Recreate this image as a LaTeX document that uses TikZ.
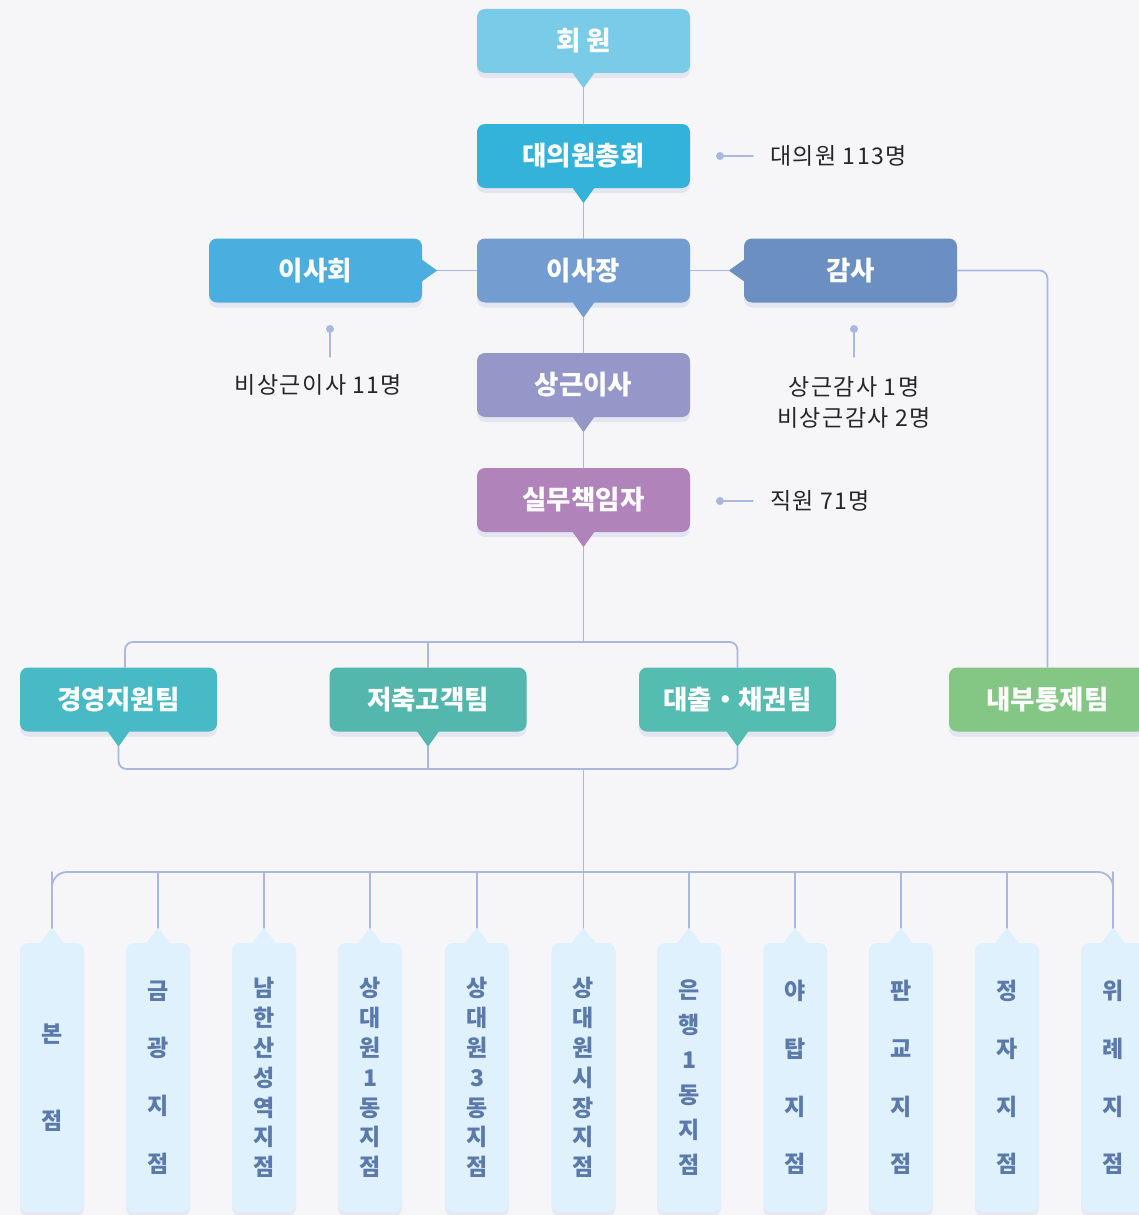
\documentclass[tikz,border=0pt]{standalone}
\usepackage{fontspec}
\setmainfont{Noto Sans CJK KR}
\newfontfamily\notefont{Noto Sans CJK KR}[LetterSpace=6]
\usetikzlibrary{positioning,calc,shadows}

\definecolor{bgpaper}{HTML}{F6F6F9}
\definecolor{linkblue}{HTML}{AAB7E0}
\definecolor{shadowblue}{HTML}{5A6FB8}
\definecolor{notetext}{HTML}{262626}
\definecolor{cMember}{HTML}{7ACBE7}
\definecolor{cAssembly}{HTML}{33B3D9}
\definecolor{cBoard}{HTML}{4AAFDF}
\definecolor{cChair}{HTML}{739CD0}
\definecolor{cAudit}{HTML}{6B8FC1}
\definecolor{cDirector}{HTML}{9497C7}
\definecolor{cOfficer}{HTML}{B084BB}
\definecolor{cMgmt}{HTML}{48BAC5}
\definecolor{cSave}{HTML}{53B7AE}
\definecolor{cLoan}{HTML}{55BCB2}
\definecolor{cControl}{HTML}{84C785}
\definecolor{branchfill}{HTML}{DFF1FC}
\definecolor{branchtext}{HTML}{5B7AAB}

\tikzset{
  unit/.style={rounded corners=8pt, minimum width=213pt, minimum height=64pt,
    inner sep=0pt, text=white, font=\fontsize{26.5}{30}\selectfont\bfseries,
    drop shadow={shadow xshift=0pt, shadow yshift=-5pt, opacity=0.12, fill=shadowblue}},
  team/.style={unit, minimum width=197pt},
  branch/.style={rounded corners=8pt, minimum width=64pt, minimum height=269pt,
    inner sep=0pt, fill=branchfill, text=branchtext, align=center,
    drop shadow={shadow xshift=0pt, shadow yshift=-4pt, opacity=0.10, fill=shadowblue}},
  link/.style={draw=linkblue, line width=1.8pt},
  note/.style={text=notetext, font=\notefont\fontsize{23}{31}\selectfont, inner sep=0pt},
  notedot/.style={circle, fill=linkblue, inner sep=0pt, minimum size=8pt}
}

\newcommand{\TipDown}[2]{%
  \fill[#2] ($(#1.south)+(-11,-0.5)$) -- ($(#1.south)+(0,15)$) -- ($(#1.south)+(11,-0.5)$) -- cycle;
  \coordinate (#1-tip) at ($(#1.south)+(0,15)$);}
\newcommand{\TipUp}[2]{%
  \fill[#2] ($(#1.north)+(-12,0.5)$) -- ($(#1.north)+(0,-15)$) -- ($(#1.north)+(12,0.5)$) -- cycle;
  \coordinate (#1-tip) at ($(#1.north)+(0,-15)$);}
\newcommand{\TipRight}[2]{%
  \fill[#2] ($(#1.east)+(-0.5,-11)$) -- ($(#1.east)+(15,0)$) -- ($(#1.east)+(-0.5,11)$) -- cycle;
  \coordinate (#1-tip) at ($(#1.east)+(15,0)$);}
\newcommand{\TipLeft}[2]{%
  \fill[#2] ($(#1.west)+(0.5,-11)$) -- ($(#1.west)+(-15,0)$) -- ($(#1.west)+(0.5,11)$) -- cycle;
  \coordinate (#1-tip) at ($(#1.west)+(-15,0)$);}

\begin{document}
\begin{tikzpicture}[x=1pt, y=-1pt, line join=round, line cap=round]

\useasboundingbox (0,0) rectangle (1139,1215);
\fill[bgpaper] (0,0) rectangle (1139,1215);
\clip (0,0) rectangle (1139,1215);

\node[unit, fill=cMember] (member) at (583.5,41) {회 원};
\TipDown{member}{cMember}
\node[unit, fill=cAssembly] (assembly) at (583.5,156) {대의원총회};
\TipDown{assembly}{cAssembly}
\node[unit, fill=cChair] (chair) at (583.5,270.5) {이사장};
\TipDown{chair}{cChair}
\node[unit, fill=cBoard] (board) at (315.5,270.5) {이사회};
\TipRight{board}{cBoard}
\node[unit, fill=cAudit] (audit) at (850.5,270.5) {감사};
\TipLeft{audit}{cAudit}
\node[unit, fill=cDirector] (director) at (583.5,385) {상근이사};
\TipDown{director}{cDirector}
\node[unit, fill=cOfficer] (officer) at (583.5,500) {실무책임자};
\TipDown{officer}{cOfficer}

\node[team, fill=cMgmt] (mgmt) at (118.5,699.5) {경영지원팀};
\TipDown{mgmt}{cMgmt}
\node[team, fill=cSave] (save) at (428,699.5) {저축고객팀};
\TipDown{save}{cSave}
\node[team, fill=cLoan] (loan) at (737.5,699.5) {대출・채권팀};
\TipDown{loan}{cLoan}
\node[team, fill=cControl] (control) at (1047.5,699.5) {내부통제팀};

\coordinate (bus1) at (583.5,642);
\coordinate (bus2) at (583.5,769);
\coordinate (bus3) at (583.5,872);

\draw[link] (member-tip) -- (assembly);
\draw[link] (assembly-tip) -- (chair);
\draw[link] (chair-tip) -- (director);
\draw[link] (director-tip) -- (officer);
\draw[link] (board-tip) -- (chair.west |- board-tip);
\draw[link] (chair.east |- audit-tip) -- (audit-tip);
\draw[link, rounded corners=8pt] (audit.east |- audit-tip) -| (control.north);

\draw[link] (officer-tip) -- (bus1);
\draw[link, rounded corners=8pt] ([xshift=6.5pt]mgmt.north) |- (bus1) -| (loan.north);
\draw[link] (save.north) -- (save.north |- bus1);
\draw[link, rounded corners=8pt] (mgmt-tip) |- (bus2) -| (loan-tip);
\draw[link] (save-tip) -- (save-tip |- bus2);
\draw[link] (bus2) -- (bus3);

\foreach \n/\x/\gap/\txt in {1/52/87/{본\\점}, 2/158/57.7/{금\\광\\지\\점},
    3/264/29.8/{남\\한\\산\\성\\역\\지\\점}, 4/370/29.8/{상\\대\\원\\1\\동\\지\\점},
    5/477/29.8/{상\\대\\원\\3\\동\\지\\점}, 6/583.5/29.8/{상\\대\\원\\시\\장\\지\\점},
    7/689/35/{은\\행\\1\\동\\지\\점}, 8/795/57.7/{야\\탑\\지\\점},
    9/901/57.7/{판\\교\\지\\점}, 10/1007/57.7/{정\\자\\지\\점}, 11/1113/57.7/{위\\례\\지\\점}}{
  \node[branch, font=\fontsize{23}{\gap}\selectfont\bfseries] (br\n) at (\x,1077.5) {\txt};
  \TipUp{br\n}{branchfill}
  \draw[link] (br\n-tip) -- (br\n-tip |- bus3);
}
\draw[link, rounded corners=15pt] (br1-tip) |- (bus3) -| (br11-tip);

\node[notedot] (assemblydot) at (720,156) {};
\coordinate (assemblyend) at (753,156);
\draw[link, line width=1.3pt] (assemblydot) -- (assemblyend);
\node[note, anchor=west] (assemblynote) at (770,156) {대의원 113명};

\node[notedot] (staffdot) at (720,501) {};
\coordinate (staffend) at (753,501);
\draw[link, line width=1.3pt] (staffdot) -- (staffend);
\node[note, anchor=west] (staffnote) at (770,501) {직원 71명};

\node[notedot] (boarddot) at (330,329) {};
\coordinate (boardend) at (330,357);
\draw[link, line width=1.3pt] (boarddot) -- (boardend);
\node[note] (boardnote) at (318.5,385) {비상근이사 11명};

\node[notedot] (auditdot) at (854,329) {};
\coordinate (auditend) at (854,357);
\draw[link, line width=1.3pt] (auditdot) -- (auditend);
\node[note, align=center] (auditnote) at (854,402) {상근감사 1명\\비상근감사 2명};

\end{tikzpicture}
\end{document}
